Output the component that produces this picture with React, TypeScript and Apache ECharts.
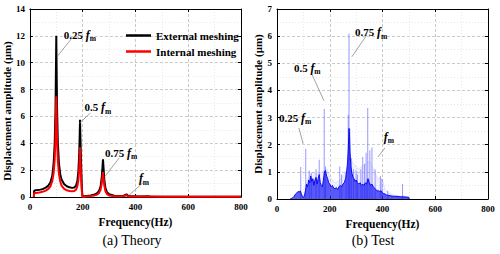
import React, { useEffect, useRef } from "react";
import * as echarts from "echarts";

// ---------- (a) Theory ----------
const extFreq = [15, 16, 20, 30, 40, 50, 60, 70, 78, 85, 90, 94, 97, 99, 100, 101, 103, 106, 110, 115, 120, 130, 140, 150, 160, 168, 175, 180, 184, 187, 189, 190, 191, 193, 195, 197, 199, 201, 205, 215, 230, 245, 255, 262, 268, 272, 275, 277, 279, 282, 286, 292, 300, 320, 340, 355, 362, 366, 370, 380, 420, 450, 455, 500, 800];
const extAmp = [0, 0.45, 0.5, 0.52, 0.55, 0.6, 0.7, 0.85, 1.1, 1.6, 2.5, 4.0, 6.5, 10, 12.0, 10, 6.5, 4.0, 2.5, 1.7, 1.3, 0.95, 0.8, 0.72, 0.68, 0.7, 0.85, 1.2, 2.0, 3.3, 4.8, 5.75, 4.8, 3.2, 1.8, 0.6, 0.1, 0.0, 0.05, 0.08, 0.12, 0.18, 0.28, 0.45, 0.8, 1.4, 2.2, 2.8, 2.2, 1.3, 0.7, 0.35, 0.2, 0.1, 0.08, 0.1, 0.15, 0.2, 0.12, 0.05, 0.03, 0.05, 0.02, 0.02, 0.01];
const intFreq = [15, 16, 20, 30, 40, 50, 60, 70, 78, 85, 90, 94, 97, 99, 100, 101, 103, 106, 110, 115, 120, 130, 140, 150, 160, 168, 175, 180, 184, 187, 189, 190, 191, 193, 195, 197, 199, 201, 215, 230, 245, 255, 262, 268, 272, 275, 277, 279, 282, 286, 292, 300, 320, 340, 355, 362, 366, 370, 380, 450, 500, 800];
const intAmp = [0, 0.28, 0.3, 0.32, 0.35, 0.4, 0.48, 0.6, 0.8, 1.2, 1.8, 2.8, 4.4, 6.5, 7.5, 6.5, 4.3, 2.7, 1.7, 1.15, 0.85, 0.6, 0.5, 0.45, 0.43, 0.45, 0.55, 0.8, 1.3, 2.1, 3.0, 3.7, 3.0, 2.0, 1.1, 0.4, 0.05, 0, 0.05, 0.08, 0.12, 0.18, 0.3, 0.55, 0.95, 1.5, 1.85, 1.45, 0.85, 0.45, 0.22, 0.12, 0.06, 0.05, 0.07, 0.1, 0.15, 0.08, 0.03, 0.04, 0.01, 0.01];
const theoryLabels = ["0.25 ", "0.5 ", "0.75 ", ""];
const theoryLabelPos = [[128, 12.1], [207, 6.7], [285, 3.3], [413, 1.4]];
const theoryLeaders = [[[158, 11.8], [105, 10.5]], [[229, 6.25], [188, 5.5]], [[338, 2.9], [285, 1.55]], [[428, 1.05], [376, 0.15]]];

// ---------- (b) Test ----------
const darkFreq = [50, 55, 60, 65, 70, 75, 80, 85, 88, 92, 96, 100, 104, 108, 112, 116, 120, 124, 128, 132, 136, 140, 144, 148, 152, 156, 160, 164, 168, 172, 176, 180, 184, 188, 192, 196, 200, 205, 210, 215, 220, 225, 230, 235, 240, 245, 250, 255, 260, 264, 268, 271, 273, 275, 277, 280, 284, 288, 292, 296, 300, 305, 310, 315, 320, 325, 330, 335, 340, 345, 350, 355, 360, 365, 370, 375, 380, 385, 390, 395, 400, 405, 410, 415, 420, 430, 440, 450, 460, 470, 480, 490, 500, 501];
const darkAmp = [0, 0.02, 0.05, 0.1, 0.18, 0.22, 0.28, 0.25, 0.3, 0.2, 0.1, 0.05, 0.12, 0.3, 0.55, 0.45, 0.7, 0.6, 0.85, 0.65, 0.75, 0.5, 0.7, 0.8, 0.55, 0.75, 0.9, 0.6, 0.5, 0.45, 0.7, 1.0, 1.05, 0.85, 0.75, 0.6, 0.55, 0.45, 0.5, 0.4, 0.38, 0.42, 0.35, 0.45, 0.5, 0.45, 0.55, 0.6, 0.75, 1.0, 1.4, 2.0, 2.6, 2.3, 1.7, 1.2, 0.95, 0.8, 0.75, 0.65, 0.7, 0.6, 0.55, 0.6, 0.5, 0.55, 0.5, 0.6, 0.55, 0.75, 0.6, 0.5, 0.55, 0.45, 0.4, 0.35, 0.3, 0.3, 0.28, 0.3, 0.22, 0.2, 0.18, 0.15, 0.14, 0.12, 0.1, 0.1, 0.09, 0.08, 0.08, 0.07, 0.06, 0];
const lightFreq = [100, 110, 130, 150, 170, 190, 200, 220, 240, 260, 280, 290, 300, 310, 320, 330, 340, 350, 360, 370, 380, 390, 400, 410, 420, 440, 460, 480, 500, 501];
const lightAmp = [0, 0.6, 1.0, 0.9, 1.0, 1.1, 0.8, 0.6, 0.7, 1.0, 1.5, 1.3, 1.2, 1.1, 1.2, 1.25, 1.3, 1.4, 1.2, 1.0, 0.8, 0.75, 0.7, 0.35, 0.25, 0.15, 0.12, 0.1, 0.08, 0];
const spikeFreq = [90, 109, 122, 130, 148, 160, 179, 184, 238, 245, 262, 270, 273, 276, 282, 290, 300, 305, 318, 325, 332, 338, 344, 352, 360, 372, 392, 398, 420, 476];
const spikeAmp = [1.18, 1.85, 1.05, 0.95, 1.1, 1.45, 3.32, 1.2, 1.2, 0.9, 1.0, 3.1, 6.1, 2.6, 1.5, 1.1, 1.05, 0.9, 1.1, 1.55, 1.3, 1.7, 3.35, 1.8, 1.9, 1.1, 0.85, 0.75, 0.3, 0.55];
const testLabels = ["0.75 ", "0.5 ", "0.25 ", ""];
const testLabelPos = [[296, 6.15], [64, 4.83], [8, 2.99], [405, 2.29]];
const testLeaders = [[[341, 6.05], [284, 5.24]], [[133, 4.58], [178, 3.62]], [[83, 2.62], [99, 2.03]], [[409, 1.88], [383, 1.55]]];

const xTicks = { min: 0, max: 800, interval: 200 };

const FONT = "Liberation Serif";

const zip = (a: number[], b: number[]) => a.map((v, i) => [v, b[i]]);

const richAnno = {
  n: { fontFamily: FONT, fontWeight: "bold", fontSize: 11, color: "#000" },
  f: { fontFamily: FONT, fontWeight: "bold", fontStyle: "italic", fontSize: 12, color: "#000" },
  m: { fontFamily: FONT, fontWeight: "bold", fontSize: 7.5, color: "#000", padding: [8, 0, 0, 0] },
};

function axesFor(grid: number, yMax: number, yInt: number, nameGap: number, namePad: number[]) {
  const split = { show: true, lineStyle: { color: "#bdbdbd", type: [3, 2], width: 0.8 } };
  const minor = { show: true, lineStyle: { color: "#e2e2e2", type: [1, 2], width: 0.8 } };
  const axisLine = { show: true, onZero: false, lineStyle: { color: "#000", width: 1 } };
  const label = { fontFamily: FONT, fontWeight: "bold", fontSize: 9, color: "#000" };
  const x = [
    {
      type: "value", gridIndex: grid, position: "bottom", ...xTicks,
      axisLine, axisTick: { show: true, inside: true, length: 3, lineStyle: { color: "#000" } },
      axisLabel: { ...label, margin: 5 },
      splitLine: split, minorTick: { show: false, splitNumber: 2 }, minorSplitLine: minor,
      name: "Frequency(Hz)", nameLocation: "middle", nameGap: 15,
      nameTextStyle: { fontFamily: FONT, fontWeight: "bold", fontSize: 11.5, color: "#000" },
    },
    {
      type: "value", gridIndex: grid, position: "top", ...xTicks,
      axisLine, axisTick: { show: true, inside: true, length: 3, lineStyle: { color: "#000" } },
      axisLabel: { show: false }, splitLine: { show: false },
    },
  ];
  const y = [
    {
      type: "value", gridIndex: grid, position: "left", min: 0, max: yMax, interval: yInt,
      axisLine, axisTick: { show: true, inside: true, length: 3, lineStyle: { color: "#000" } },
      axisLabel: { ...label, margin: 5 },
      splitLine: split, minorTick: { show: false, splitNumber: 2 }, minorSplitLine: minor,
      name: "Displacement amplitude (\u03bcm)", nameLocation: "middle", nameGap,
      nameTextStyle: { fontFamily: FONT, fontWeight: "bold", fontSize: 11, color: "#000", padding: namePad },
    },
    {
      type: "value", gridIndex: grid, position: "right", min: 0, max: yMax, interval: yInt,
      axisLine, axisTick: { show: true, inside: true, length: 3, lineStyle: { color: "#000" } },
      axisLabel: { show: false }, splitLine: { show: false },
    },
  ];
  return { x, y };
}

function annotations(labels: string[], pos: number[][], leaders: number[][][]) {
  return {
    markPoint: {
      symbol: "circle", symbolSize: 0, silent: true,
      label: { show: true, position: "right", distance: 0, color: "#000", rich: richAnno },
      data: labels.map((t, i) => ({
        coord: pos[i],
        label: { formatter: (t ? `{n|${t}}` : "") + "{f|f}{m|m}" },
      })),
    },
    markLine: {
      symbol: ["none", "none"], silent: true, animation: false,
      label: { show: false },
      lineStyle: { color: "#8a8a8a", width: 0.8, type: "solid" },
      data: leaders.map((l) => [{ coord: l[0] }, { coord: l[1] }]),
    },
  };
}

export default function App() {
  const ref = useRef<HTMLDivElement>(null);
  useEffect(() => {
    if (!ref.current) return;
    const chart = echarts.init(ref.current, undefined, { renderer: "svg" });
    const a = axesFor(0, 14, 2, 10, [0, 16, 0, 0]);
    const b = axesFor(1, 7, 1, 8, [0, 0, 0, 0]);
    chart.setOption({
      animation: false,
      backgroundColor: "#fff",
      grid: [
        { left: 28, top: 9, width: 213, height: 188 },
        { left: 277, top: 9, width: 211, height: 190 },
      ],
      xAxis: [...a.x, ...b.x],
      yAxis: [...a.y, ...b.y],
      legend: {
        data: ["External meshing", "Internal meshing"],
        orient: "vertical", left: 121, top: 25, itemGap: 5,
        icon: "rect", itemWidth: 25, itemHeight: 2.5,
        textStyle: { fontFamily: FONT, fontWeight: "bold", fontSize: 11, color: "#000" },
      },
      graphic: [
        { type: "text", x: 132, y: 240, style: { text: "(a) Theory", font: `14px ${FONT}`, fill: "#000", textAlign: "center", textVerticalAlign: "middle" } },
        { type: "text", x: 373, y: 240, style: { text: "(b) Test", font: `14px ${FONT}`, fill: "#000", textAlign: "center", textVerticalAlign: "middle" } },
      ],
      series: [
        {
          name: "External meshing", type: "line", xAxisIndex: 0, yAxisIndex: 0,
          data: zip(extFreq, extAmp), showSymbol: false, symbol: "none",
          lineStyle: { color: "#000", width: 2 }, itemStyle: { color: "#000" },
          ...annotations(theoryLabels, theoryLabelPos, theoryLeaders),
        },
        {
          name: "Internal meshing", type: "line", xAxisIndex: 0, yAxisIndex: 0,
          data: zip(intFreq, intAmp), showSymbol: false, symbol: "none",
          lineStyle: { color: "#ff0000", width: 2 }, itemStyle: { color: "#ff0000" },
        },
        {
          name: "lightNoise", type: "line", xAxisIndex: 2, yAxisIndex: 2,
          data: zip(lightFreq, lightAmp), symbol: "none",
          lineStyle: { width: 0.5, color: "rgba(120,120,255,0.35)" },
          areaStyle: { color: "rgba(140,140,255,0.2)" },
        },
        {
          name: "spikes", type: "bar", xAxisIndex: 2, yAxisIndex: 2,
          data: zip(spikeFreq, spikeAmp), barWidth: 1,
          itemStyle: { color: "rgba(110,110,255,0.7)" },
        },
        {
          name: "darkNoise", type: "line", xAxisIndex: 2, yAxisIndex: 2,
          data: zip(darkFreq, darkAmp), symbol: "none",
          lineStyle: { width: 1, color: "#0a0af0" },
          areaStyle: { color: "#1a1af5" },
          ...annotations(testLabels, testLabelPos, testLeaders),
        },
      ],
    });
    return () => chart.dispose();
  }, []);
  return <div ref={ref} style={{ position: "fixed", left: 0, top: 0, width: 500, height: 254 }} />;
}
